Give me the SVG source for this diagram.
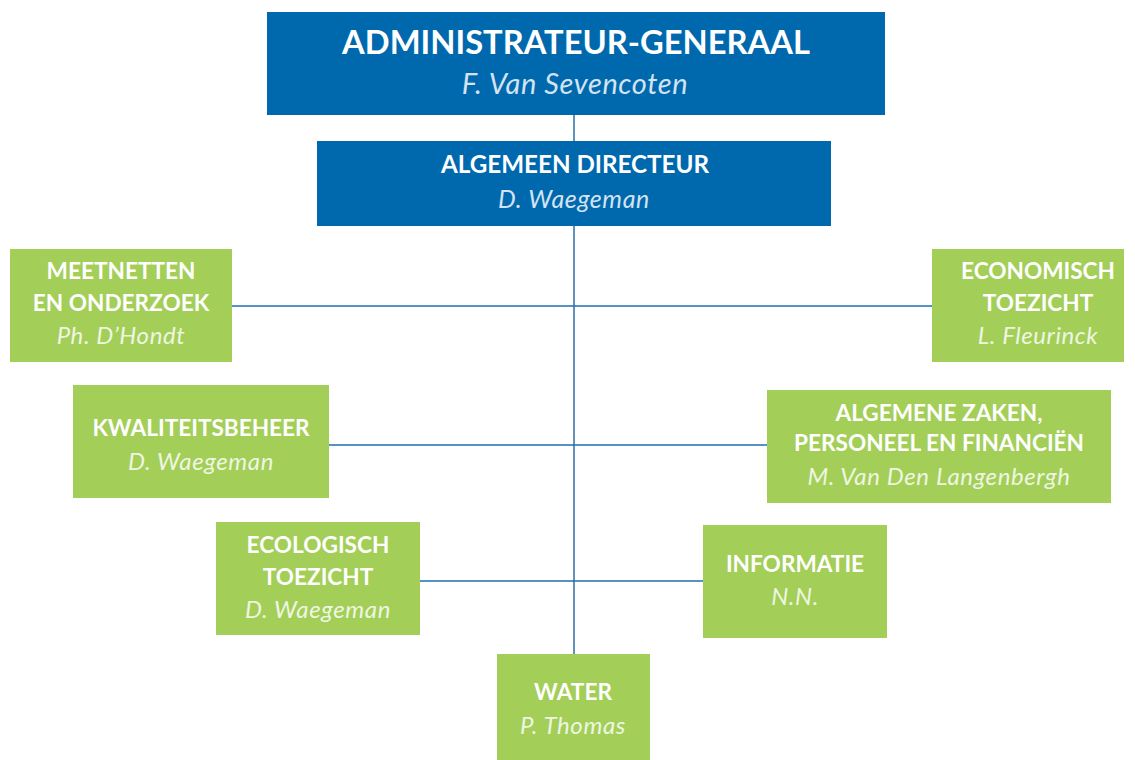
<svg xmlns="http://www.w3.org/2000/svg" width="1135" height="760" viewBox="0 0 1135 760">
<style>
.blue{fill:#0069ae}
.green{fill:#a3ce57}
.t{font-family:Lato,"Open Sans","Liberation Sans",sans-serif;font-weight:700;fill:#fff;text-anchor:middle}
.n{font-family:Lato,"Open Sans","Liberation Sans",sans-serif;font-style:italic;font-weight:400;text-anchor:middle;letter-spacing:0.6px}
.nb{fill:#d3e3f1}
.ng{fill:#eef6e2}
.g{font-size:22.6px}
.gn{font-size:24px}
.c{stroke:#1f6eb0;stroke-width:1.6;fill:none}
</style>
<rect width="1135" height="760" fill="#fff"/>
<g id="connectors">
<line class="c" x1="574" y1="115" x2="574" y2="654" style="stroke:#3d77a8"/>
<line class="c" x1="232" y1="306" x2="932" y2="306"/>
<line class="c" x1="329" y1="445" x2="767" y2="445"/>
<line class="c" x1="420" y1="581" x2="703" y2="581"/>
</g>
<g id="admin">
<rect class="blue" x="267" y="12" width="618" height="103"/>
<text class="t" x="576" y="54" style="font-size:32.7px">ADMINISTRATEUR-GENERAAL</text>
<text class="n nb" x="575" y="94" style="font-size:29px">F. Van Sevencoten</text>
</g>
<g id="directeur">
<rect class="blue" x="317" y="141" width="514" height="85"/>
<text class="t" x="575" y="173" style="font-size:24.2px">ALGEMEEN DIRECTEUR</text>
<text class="n nb" x="574" y="208" style="font-size:25px">D. Waegeman</text>
</g>
<g id="meetnetten">
<rect class="green" x="10" y="249" width="222" height="113"/>
<text class="t g" x="121" y="279">MEETNETTEN</text>
<text class="t g" x="121" y="311">EN ONDERZOEK</text>
<text class="n ng gn" x="121" y="344">Ph. D’Hondt</text>
</g>
<g id="economisch">
<rect class="green" x="932" y="249" width="192" height="113"/>
<text class="t g" x="1038" y="279">ECONOMISCH</text>
<text class="t g" x="1038" y="311">TOEZICHT</text>
<text class="n ng gn" x="1038" y="344">L. Fleurinck</text>
</g>
<g id="kwaliteitsbeheer">
<rect class="green" x="73" y="385" width="256" height="113"/>
<text class="t g" x="201" y="436">KWALITEITSBEHEER</text>
<text class="n ng gn" x="201" y="470">D. Waegeman</text>
</g>
<g id="algemene-zaken">
<rect class="green" x="767" y="390" width="344" height="113"/>
<text class="t g" x="939" y="421">ALGEMENE ZAKEN,</text>
<text class="t g" x="939" y="451">PERSONEEL EN FINANCIËN</text>
<text class="n ng gn" x="939" y="485">M. Van Den Langenbergh</text>
</g>
<g id="ecologisch">
<rect class="green" x="216" y="522" width="204" height="113"/>
<text class="t g" x="318" y="553">ECOLOGISCH</text>
<text class="t g" x="318" y="585">TOEZICHT</text>
<text class="n ng gn" x="318" y="618">D. Waegeman</text>
</g>
<g id="informatie">
<rect class="green" x="703" y="525" width="184" height="113"/>
<text class="t g" x="795" y="572">INFORMATIE</text>
<text class="n ng gn" x="795" y="605">N.N.</text>
</g>
<g id="water">
<rect class="green" x="497" y="654" width="153" height="106"/>
<text class="t g" x="573" y="700">WATER</text>
<text class="n ng gn" x="573" y="734">P. Thomas</text>
</g>
</svg>
